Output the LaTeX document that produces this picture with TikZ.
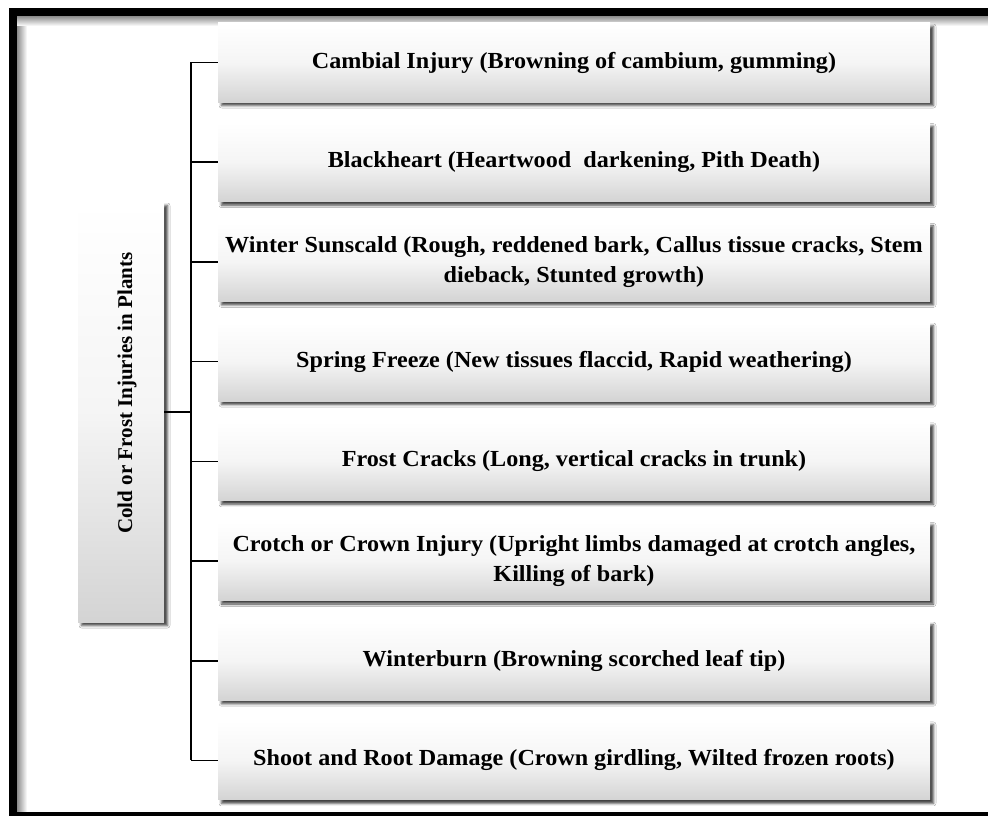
\documentclass[tikz,border=0pt]{standalone}
\usepackage{fontspec}
\setmainfont{Liberation Serif}
\newfontfamily\itemfont[FakeStretch=1.05]{Liberation Serif}
\usetikzlibrary{shadows.blur,calc}
\begin{document}
\begin{tikzpicture}[x=1pt,y=-1pt,
  cbox/.style={draw=none, inner sep=0pt,
    top color=white, bottom color=black!17, middle color=white!96!black,
    blur shadow={shadow xshift=3.5pt, shadow yshift=-3.5pt, shadow blur radius=2.5pt, shadow opacity=75},
    align=center},
  item/.style={cbox, minimum width=712pt, minimum height=79pt,
    font=\itemfont\fontsize{23}{30}\selectfont\bfseries},
  link/.style={line width=1.6pt, black}]
\useasboundingbox (0,0) rectangle (988,816);
\clip (0,0) rectangle (988,816);
\fill[white] (0,0) rectangle (988,816);
% inner glow of frame
\shade[left color=black!45, right color=white] (17,16) rectangle (27,816);
\shade[top color=black!45, bottom color=white] (17,16) rectangle (988,26);
\draw[line width=8pt] (13,12) rectangle (1000,816);

\node[cbox, minimum width=86pt, minimum height=420pt] (L) at (121,412) {};
\node[rotate=90, inner sep=0pt, font=\fontsize{21}{30}\selectfont\bfseries] (Lt) at (127,393) {Cold or Frost Injuries in Plants};

\node[item] (b1) at (574,62.5) {Cambial Injury (Browning of cambium, gumming)};
\node[item] (b2) at (574,162.2) {Blackheart (Heartwood\ \ darkening, Pith Death)};
\node[item] (b3) at (574,261.9) {Winter Sunscald (Rough, reddened bark, Callus tissue cracks, Stem\\dieback, Stunted growth)};
\node[item] (b4) at (574,361.6) {Spring Freeze (New tissues flaccid, Rapid weathering)};
\node[item] (b5) at (574,461.3) {Frost Cracks (Long, vertical cracks in trunk)};
\node[item] (b6) at (574,561.0) {Crotch or Crown Injury (Upright limbs damaged at crotch angles,\\Killing of bark)};
\node[item] (b7) at (574,660.7) {Winterburn (Browning scorched leaf tip)};
\node[item] (b8) at (574,760.4) {Shoot and Root Damage (Crown girdling, Wilted frozen roots)};

\coordinate (bus) at (191,412);
\draw[link] (L.east |- bus) -- (bus);
\draw[link] (bus |- b1.west) -- (bus |- b8.west);
\foreach \i in {1,...,8} {
  \draw[link] (bus |- b\i.west) -- (b\i.west);
}
\end{tikzpicture}
\end{document}
